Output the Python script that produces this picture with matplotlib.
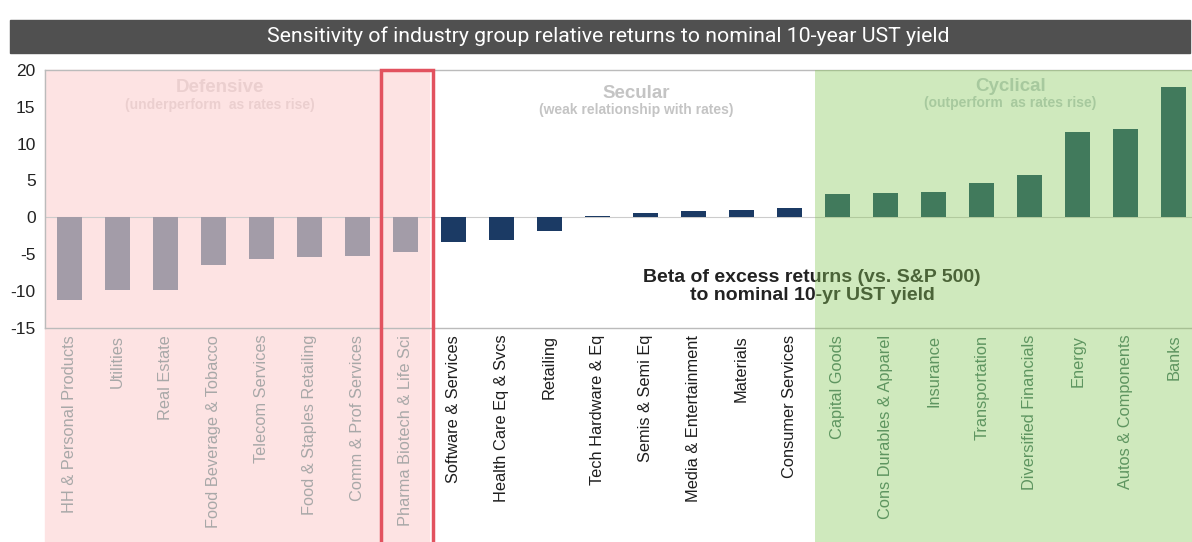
import matplotlib.pyplot as plt
from matplotlib.patches import Rectangle

plt.rcParams['font.family'] = ['Liberation Sans', 'DejaVu Sans']

# data
defensive = ['HH & Personal Products', 'Utilities', 'Real Estate', 'Food Beverage & Tobacco',
             'Telecom Services', 'Food & Staples Retailing', 'Comm & Prof Services',
             'Pharma Biotech & Life Sci']
defensive_vals = [-11.2, -9.9, -9.8, -6.4, -5.7, -5.4, -5.2, -4.7]

secular = ['Software & Services', 'Health Care Eq & Svcs', 'Retailing', 'Tech Hardware & Eq',
           'Semis & Semi Eq', 'Media & Entertainment', 'Materials', 'Consumer Services']
secular_vals = [-3.4, -3.1, -1.9, 0.2, 0.6, 0.9, 1.05, 1.25]

cyclical = ['Capital Goods', 'Cons Durables & Apparel', 'Insurance', 'Transportation',
            'Diversified Financials', 'Energy', 'Autos & Components', 'Banks']
cyclical_vals = [3.1, 3.3, 3.5, 4.7, 5.7, 11.6, 12.0, 17.7]

yticks = [-15, -10, -5, 0, 5, 10, 15, 20]

groups = [
    (defensive, defensive_vals, '#a39ca8', '#a8a8a8'),
    (secular, secular_vals, '#1b3a64', '#1e1e1e'),
    (cyclical, cyclical_vals, '#417a5c', '#5e9560'),
]

fig = plt.figure(figsize=(11.92, 5.42), dpi=100)
ax = fig.add_axes([0.038, 0.395, 0.962, 0.476])

# title bar
fig.patches.append(Rectangle((10 / 1192, 1 - 53 / 542), 1180 / 1192, 33 / 542,
                             transform=fig.transFigure, color='#505050', zorder=0))
fig.text(0.51, 1 - 36 / 542, 'Sensitivity of industry group relative returns to nominal 10-year UST yield',
         color='white', ha='center', va='center', fontsize=15.3, family=['Roboto', 'DejaVu Sans'])

labels, colors = [], []
pos = 0
for names, vals, bar_col, lab_col in groups:
    xs = list(range(pos, pos + len(names)))
    ax.bar(xs, vals, width=0.52, color=bar_col, zorder=5)
    labels += names
    colors += [lab_col] * len(names)
    pos += len(names)

ax.set_xlim(-0.5, 23.38)
ax.set_ylim(-15, 20)
ax.set_yticks(yticks)
ax.set_yticklabels([str(t) for t in yticks], fontsize=12.5, color='#222222')
ax.set_xticks(range(len(labels)))
ax.set_xticklabels(labels, rotation=90, fontsize=11.8, va='top')
for t, c in zip(ax.get_xticklabels(), colors):
    t.set_color(c)
ax.tick_params(length=0, pad=7)
ax.tick_params(axis='x', pad=5)
ax.xaxis.set_zorder(6)
ax.axhline(0, color='#cccccc', lw=0.8, zorder=2)
for s in ax.spines.values():
    s.set_color('#bbbbbb')
    s.set_linewidth(1)
ax.spines['right'].set_visible(False)

# shaded regions (green one is a translucent overlay, it tints the note text)
tr = ax.get_xaxis_transform()
ax.add_patch(Rectangle((-0.5, -0.9), 8, 1.9, transform=tr, color='#fde3e3', clip_on=False, zorder=0))
ax.add_patch(Rectangle((15.52, -0.9), 9, 1.9, transform=tr, color='#89c85a', alpha=0.4,
                       lw=0, clip_on=False, zorder=4))
ax.add_patch(Rectangle((6.5, -0.9), 1.07, 1.9, transform=tr, fill=False, edgecolor='#e2525f',
                       lw=2.5, clip_on=False, zorder=7))

# region headings
ax.text(3.14, 0.93, 'Defensive', transform=tr, ha='center', va='center', fontsize=13.5,
        fontweight='bold', color='#ebcfcf')
ax.text(3.14, 0.865, '(underperform  as rates rise)', transform=tr, ha='center', va='center',
        fontsize=10, fontweight='bold', color='#ebcfcf')
ax.text(11.8, 0.91, 'Secular', transform=tr, ha='center', va='center', fontsize=13.5,
        fontweight='bold', color='#c4c4c4')
ax.text(11.8, 0.845, '(weak relationship with rates)', transform=tr, ha='center', va='center',
        fontsize=10, fontweight='bold', color='#c4c4c4')
ax.text(19.6, 0.935, 'Cyclical', transform=tr, ha='center', va='center', fontsize=13.5,
        fontweight='bold', color='#a7c99e', zorder=6)
ax.text(19.6, 0.87, '(outperform  as rates rise)', transform=tr, ha='center', va='center',
        fontsize=10, fontweight='bold', color='#a7c99e', zorder=6)

ax.text(15.47, -9.4, 'Beta of excess returns (vs. S&P 500)\nto nominal 10-yr UST yield',
        ha='center', va='center', fontsize=14, fontweight='bold', color='#222222',
        linespacing=1.1, zorder=3)

fig.savefig('out.png', dpi=100)
